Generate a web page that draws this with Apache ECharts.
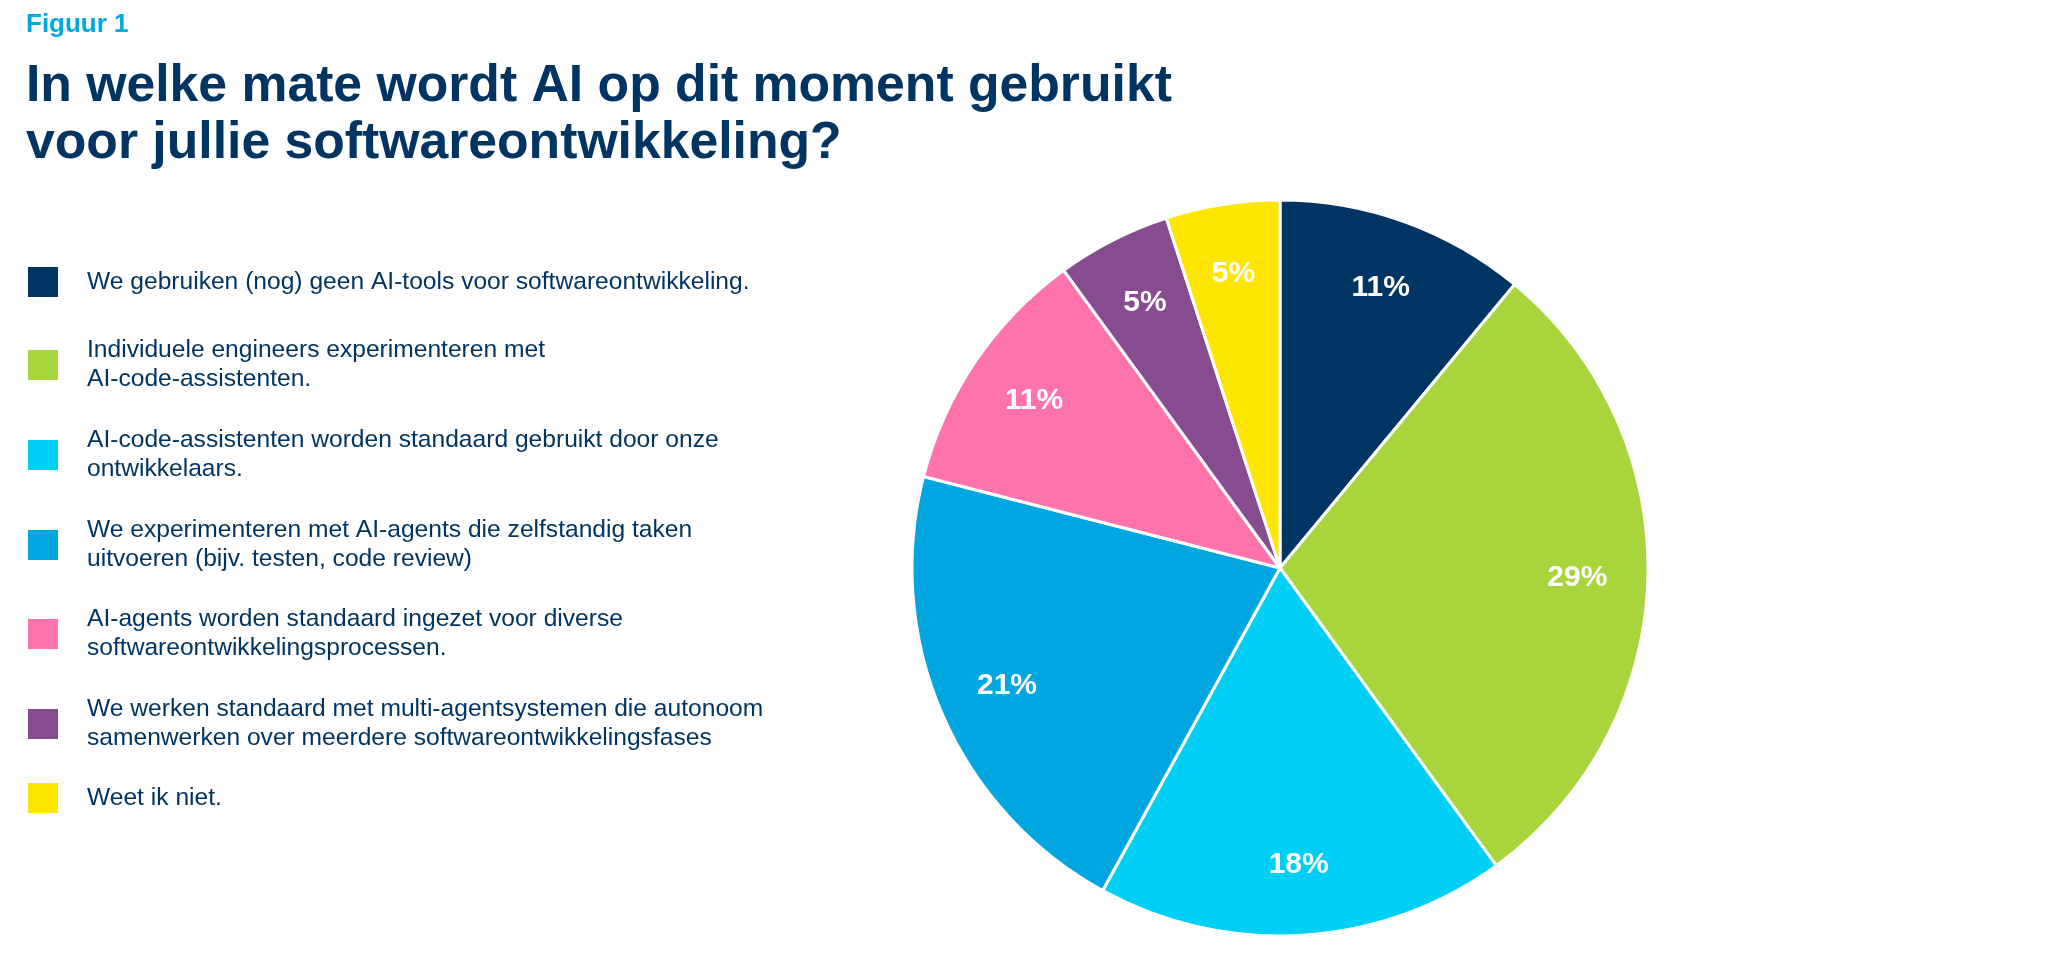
<!DOCTYPE html>
<html>
<head>
<meta charset="utf-8">
<title>Figuur 1</title>
<script src="https://cdn.jsdelivr.net/npm/echarts@6/dist/echarts.min.js"></script>
<style>
    html, body { margin: 0; padding: 0; background: #fff; }
    #main { width: 2048px; height: 972px; }
</style>
</head>
<body>
<div id="main"></div>
<script>
var categories = [
    'We gebruiken (nog) geen AI-tools voor softwareontwikkeling.',
    'Individuele engineers experimenteren met\nAI-code-assistenten.',
    'AI-code-assistenten worden standaard gebruikt door onze\nontwikkelaars.',
    'We experimenteren met AI-agents die zelfstandig taken\nuitvoeren (bijv. testen, code review)',
    'AI-agents worden standaard ingezet voor diverse\nsoftwareontwikkelingsprocessen.',
    'We werken standaard met multi-agentsystemen die autonoom\nsamenwerken over meerdere softwareontwikkelingsfases',
    'Weet ik niet.'
];
var percentages = [11, 29, 18, 21, 11, 5, 5];
var colors = ['#003462', '#a8d43c', '#00cff5', '#00a6e0', '#ff73ad', '#864c8f', '#ffe600'];

// vertical position of each legend entry (top of its box)
var legendTops = [265, 336, 426, 516, 605, 695, 781];

var navy = '#003462';
var font = 'Liberation Sans, Arial, sans-serif';
var chart = echarts.init(document.getElementById('main'));

var pieData = categories.map(function (name, i) {
    return { name: name, value: percentages[i], itemStyle: { color: colors[i] } };
});

// one legend per entry so the uneven spacing of the original can be kept
var legends = categories.map(function (name, i) {
    return {
        orient: 'vertical',
        left: 26,
        top: legendTops[i],
        padding: 0,
        data: [name],
        icon: 'rect',
        itemWidth: 32,
        itemHeight: 32,
        selectedMode: false,
        textStyle: {
            fontFamily: font,
            fontSize: 24.6,
            lineHeight: 29,
            color: navy,
            padding: [0, 0, 0, 23]
        }
    };
});

var option = {
    backgroundColor: '#fff',
    animation: false,
    title: [
        {
            text: 'Figuur 1',
            left: 26,
            top: 12,
            padding: 0,
            textStyle: {
                fontFamily: font,
                fontSize: 26,
                lineHeight: 26,
                fontWeight: 'bold',
                color: '#00a8e0'
            }
        },
        {
            text: 'In welke mate wordt AI op dit moment gebruikt\nvoor jullie softwareontwikkeling?',
            left: 26,
            top: 58,
            padding: 0,
            textStyle: {
                fontFamily: font,
                fontSize: 51.7,
                lineHeight: 57,
                fontWeight: 'bold',
                color: navy
            }
        }
    ],
    legend: legends,
    series: [
        {
            type: 'pie',
            center: [1280, 568],
            radius: [0, 368],
            startAngle: 90,
            clockwise: true,
            silent: true,
            label: { show: false },
            labelLine: { show: false },
            itemStyle: { borderColor: '#fff', borderWidth: 3 },
            data: pieData
        },
        {
            // transparent ring only used to place the percentage labels
            type: 'pie',
            center: [1280, 568],
            radius: [221, 368],
            startAngle: 90,
            clockwise: true,
            silent: true,
            avoidLabelOverlap: false,
            itemStyle: { color: 'rgba(0,0,0,0)' },
            label: {
                show: true,
                position: 'inside',
                formatter: '{c}%',
                fontFamily: font,
                fontSize: 30,
                fontWeight: 'bold',
                color: '#fff'
            },
            labelLine: { show: false },
            data: percentages.map(function (v, i) {
                return { name: categories[i], value: v };
            })
        }
    ]
};
chart.setOption(option);
</script>
</body>
</html>
